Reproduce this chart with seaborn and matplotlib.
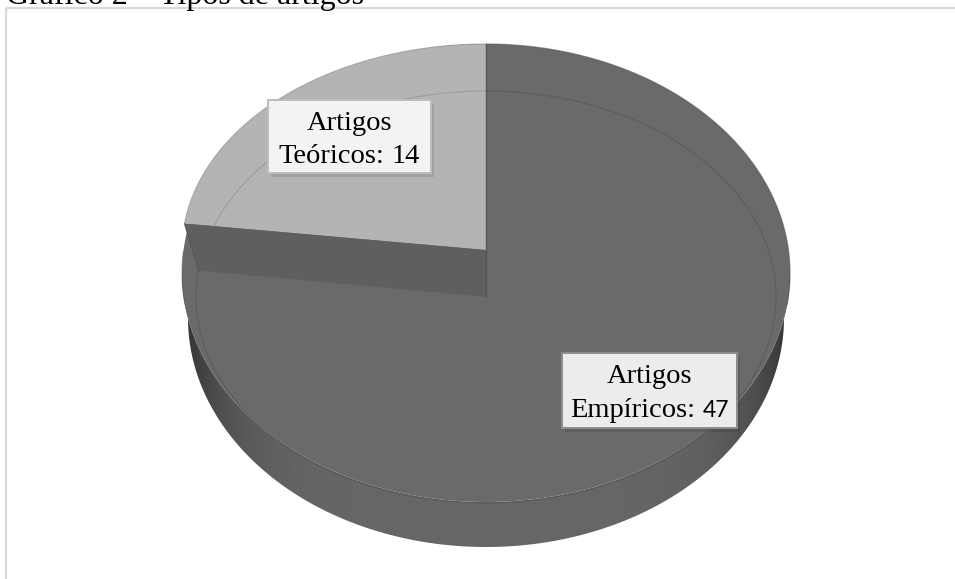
import numpy as np
import matplotlib
matplotlib.use("Agg")
import matplotlib.pyplot as plt
import seaborn as sns
from matplotlib.patches import Polygon, Rectangle

# ---- data -------------------------------------------------------------
categories = ["Teóricos", "Empíricos"]
values = [14, 47]
label_head = "Artigos"
title = "Gráfico 2 – Tipos de artigos"

# ---- style ------------------------------------------------------------
sns.set_theme(style="white")
plt.rcParams["font.family"] = ["Liberation Serif", "DejaVu Serif"]

top_colors = {"Teóricos": "#b4b4b4", "Empíricos": "#6a6a6a"}
band_color = "#5f5f5f"
value_fonts = {"Teóricos": ["Liberation Serif"], "Empíricos": ["Lato"]}
value_sizes = {"Teóricos": 20.5, "Empíricos": 16.5}

W, H = 955, 579
fig = plt.figure(figsize=(W / 100, H / 100), dpi=100)
ax = fig.add_axes([0, 0, 1, 1])
ax.set_xlim(0, W)
ax.set_ylim(H, 0)
ax.axis("off")

# ---- pie geometry (pixel units, y grows downward) --------------------
cx, cy = 486, 273          # centre of the disc
a, b = 304, 229            # radii of the projected top ellipse
depth = 45                 # visible thickness of the disc
lift = 23                  # separation of the two slices
a_in = 290                 # inner bevel radius


def ell(xc, yc, ra, rb, t_deg):
    t = np.radians(t_deg)
    return np.column_stack([xc + ra * np.cos(t), yc - rb * np.sin(t)])


total = sum(values)
sweep = 360.0 * values[0] / total
t0, t1 = 90.0, 90.0 + sweep       # Teóricos runs counter-clockwise from 12 o'clock

# side wall of the disc (front half)
upper = ell(cx, cy, a, b, np.linspace(180, 360, 200))
lower = ell(cx, cy + depth, a - 6, b, np.linspace(360, 180, 200))
wall = Polygon(np.vstack([upper, lower]), closed=True, facecolor="none", edgecolor="none")
ax.add_patch(wall)
xs = np.linspace(cx - a, cx + a, 400)
shade = 0x66 - 0x34 * (np.abs(xs - cx) / a) ** 6
img = np.tile(shade / 255.0, (10, 1))
im = ax.imshow(img, cmap="gray", vmin=0, vmax=1, aspect="auto",
               extent=(cx - a, cx + a, cy + b + depth + 2, cy - 5), zorder=1)
im.set_clip_path(wall)

# top face of the larger slice
full = ell(cx, cy, a, b, np.linspace(0, 360, 400))
ax.add_patch(Polygon(full, closed=True, facecolor=top_colors["Empíricos"],
                     edgecolor="none", zorder=2))

# top face of the smaller slice, pushed back
tc = (cx, cy - lift)
arc_t = ell(tc[0], tc[1], a, b - lift, np.linspace(t0, t1, 120))
ax.add_patch(Polygon(np.vstack([[tc], arc_t]), closed=True,
                     facecolor=top_colors["Teóricos"], edgecolor="none", zorder=3))
ax.plot(arc_t[:, 0], arc_t[:, 1], color="#8a8a8a", alpha=0.6, lw=0.8, zorder=6)

# bevel line
bev = ell(cx, cy + lift + 1, a_in, b - lift, np.linspace(0, 360, 400))
ax.plot(bev[:, 0], bev[:, 1], color="black", alpha=0.12, lw=0.9, zorder=4)

# radial cut face between the slices
ec = (cx, cy + lift + 1)
p_t = ell(tc[0], tc[1], a, b - lift, [t1])[0]
p_e = ell(ec[0], ec[1], a_in, b - lift, [t1])[0]
ax.add_patch(Polygon([tc, p_t, p_e, ec], closed=True, facecolor=band_color,
                     edgecolor="none", zorder=5))
ax.plot([p_t[0], p_e[0]], [p_t[1], p_e[1]], color="#575757", lw=0.8, zorder=6)
ax.plot([tc[0], ec[0]], [ell(cx, cy, a, b, [90])[0][1], ec[1]],
        color="#555555", lw=1.0, zorder=6)

# soft outline of the upper rim of the larger slice
rim = ell(cx, cy, a, b, np.linspace(-8, 90, 200))
ax.plot(rim[:, 0], rim[:, 1], color="#505050", alpha=0.55, lw=0.9, zorder=6)
rim_l = ell(cx, cy, a, b, np.linspace(t1 + 2, 188, 40))
ax.plot(rim_l[:, 0], rim_l[:, 1], color="#505050", alpha=0.4, lw=0.9, zorder=4)

# ---- data labels -------------------------------------------------------
boxes = {"Teóricos": (349.5, 136.5, 163, 73, "#f3f3f3", "#bdbdbd"),
         "Empíricos": (649.5, 390.5, 175, 75, "#ececec", "#8c8c8c")}
baselines = {"Teóricos": (130, 163), "Empíricos": (383, 417)}

fig.canvas.draw()
renderer = fig.canvas.get_renderer()
for name, val in zip(categories, values):
    bx, by, bw, bh, fc, ecl = boxes[name]
    ax.add_patch(Rectangle((bx - bw / 2 + 3, by - bh / 2 + 4), bw, bh,
                           facecolor="black", alpha=0.10, edgecolor="none", zorder=7))
    ax.add_patch(Rectangle((bx - bw / 2, by - bh / 2), bw, bh, facecolor=fc,
                           edgecolor=ecl, lw=1.4, zorder=8))
    y1, y2 = baselines[name]
    ax.text(bx, y1, label_head, fontsize=20.5, ha="center", va="baseline",
            color="black", zorder=9)
    word = ax.text(0, y2, f"{name}:", fontsize=20.5, ha="left", va="baseline",
                   color="black", zorder=9)
    num = ax.text(0, y2, f"{val}", fontsize=value_sizes[name], ha="left",
                  va="baseline", family=value_fonts[name], color="black", zorder=9)
    sp = ax.text(0, 0, "a a", fontsize=20.5)
    nsp = ax.text(0, 0, "aa", fontsize=20.5)
    w_word = word.get_window_extent(renderer).width
    w_num = num.get_window_extent(renderer).width
    w_sp = sp.get_window_extent(renderer).width - nsp.get_window_extent(renderer).width
    sp.remove()
    nsp.remove()
    x0 = bx - (w_word + w_sp + w_num) / 2
    word.set_x(x0)
    num.set_x(x0 + w_word + w_sp)

# ---- title and frame ---------------------------------------------------
ax.text(6, 4, title, fontsize=23, ha="left", va="baseline", color="black")
ax.plot([6, W], [8, 8], color="#d9d9d9", lw=1.6, solid_capstyle="butt")
ax.plot([6, 6], [8, H], color="#d9d9d9", lw=1.6, solid_capstyle="butt")

fig.savefig("out.png", dpi=100)
